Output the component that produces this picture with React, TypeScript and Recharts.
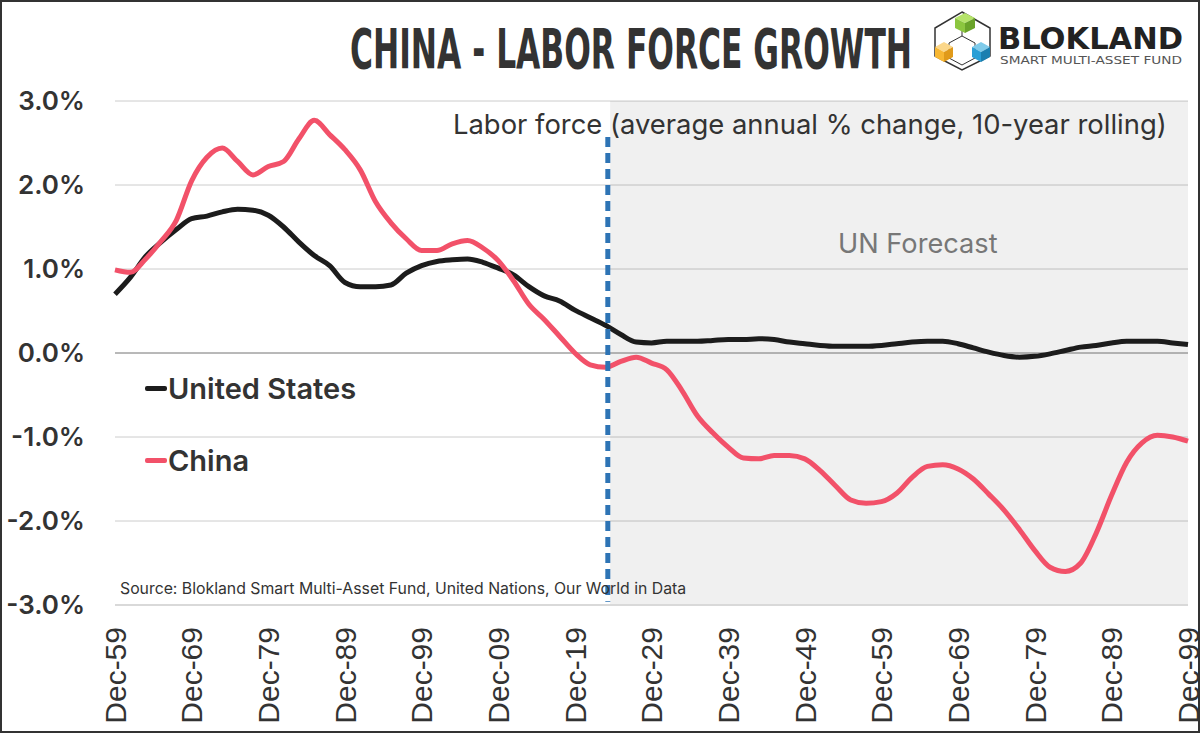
import { LineChart, Line, XAxis, YAxis, CartesianGrid, ReferenceArea, ReferenceLine } from "recharts";

// Annual points every 2 years
const YEARS = [
  1959, 1961, 1963, 1965, 1967, 1969, 1971, 1973, 1975, 1977, 1979, 1981, 1983, 1985, 1987, 1989,
  1991, 1993, 1995, 1997, 1999, 2001, 2003, 2005, 2007, 2009, 2011, 2013, 2015, 2017, 2019, 2021,
  2023, 2025, 2027, 2029, 2031, 2033, 2035, 2037, 2039, 2041, 2043, 2045, 2047, 2049, 2051, 2053,
  2055, 2057, 2059, 2061, 2063, 2065, 2067, 2069, 2071, 2073, 2075, 2077, 2079, 2081, 2083, 2085,
  2087, 2089, 2091, 2093, 2095, 2097, 2099,
];

const US = [
  0.70, 0.90, 1.15, 1.32, 1.47, 1.60, 1.63, 1.68, 1.71, 1.70, 1.64, 1.50, 1.32, 1.16, 1.04, 0.84,
  0.79, 0.79, 0.81, 0.95, 1.04, 1.09, 1.11, 1.12, 1.08, 1.01, 0.93, 0.79, 0.68, 0.62, 0.51, 0.42,
  0.33, 0.22, 0.13, 0.12, 0.14, 0.14, 0.14, 0.15, 0.16, 0.16, 0.17, 0.16, 0.13, 0.11, 0.09, 0.08,
  0.08, 0.08, 0.09, 0.11, 0.13, 0.14, 0.14, 0.11, 0.06, 0.01, -0.03, -0.05, -0.04, -0.01, 0.03, 0.07,
  0.09, 0.12, 0.14, 0.14, 0.14, 0.12, 0.10,
];

const CHINA = [
  0.99, 0.96, 1.12, 1.33, 1.58, 2.05, 2.33, 2.44, 2.28, 2.12, 2.22, 2.28, 2.55, 2.77, 2.60, 2.42,
  2.18, 1.80, 1.55, 1.36, 1.22, 1.22, 1.30, 1.34, 1.25, 1.10, 0.86, 0.58, 0.40, 0.20, 0.00, -0.14,
  -0.17, -0.10, -0.05, -0.12, -0.20, -0.45, -0.75, -0.95, -1.12, -1.25, -1.26, -1.22, -1.22, -1.26, -1.40, -1.58,
  -1.75, -1.79, -1.77, -1.67, -1.48, -1.35, -1.33, -1.38, -1.50, -1.68, -1.87, -2.10, -2.35, -2.55, -2.60, -2.50,
  -2.15, -1.70, -1.30, -1.07, -0.98, -1.00, -1.05,
];

const X_TICKS = [1959, 1969, 1979, 1989, 1999, 2009, 2019, 2029, 2039, 2049, 2059, 2069, 2079, 2089, 2099];
const Y_TICKS = [-3, -2, -1, 0, 1, 2, 3];
const FORECAST_START = 2023.6;
const DIVIDER_YEAR = 2023.3;

const data = YEARS.map((year, i) => ({ year, us: US[i], china: CHINA[i] }));

const FONT = "Inter, 'Noto Sans', sans-serif";
const RED = "#f25169";
const BLACK = "#1c1c1c";

const SERIES = [
  { key: "us", name: "United States", color: BLACK },
  { key: "china", name: "China", color: RED },
];

const XTick = ({ x, y, payload }: any) => (
  <text
    transform={`translate(${x},${y + 14}) rotate(-90)`}
    textAnchor="end"
    dy="0.36em"
    fontFamily="'Liberation Sans', Arial, sans-serif"
    fontSize={30}
    fill="#333"
  >
    {"Dec-" + String(payload.value).slice(2)}
  </text>
);

const Logo = () => (
  <svg width={1200} height={90} style={{ position: "absolute", left: 0, top: 0 }}>
    <text
      x={350} y={68} textLength={562} lengthAdjust="spacingAndGlyphs"
      fontFamily="'DejaVu Sans Condensed', 'DejaVu Sans', sans-serif" fontWeight="bold" fontSize={56} fill="#333"
    >
      CHINA - LABOR FORCE GROWTH
    </text>
    {/* cube mark */}
    <polygon points="962,12 990,28 990,56 962,70 935,56 935,28" fill="none" stroke="#333" strokeWidth={1.5} />
    <polygon points="962,36 975,43 975,58 962,65 949,58 949,43" fill="none" stroke="#333" strokeWidth={1} />
    <line x1={962} y1={28} x2={962} y2={36} stroke="#333" strokeWidth={1} />
    <polygon points="965,13 975,18 965,23 955,18" fill="#b5e36a" />
    <polygon points="955,18 965,23 965,33 955,28" fill="#8cc63f" />
    <polygon points="965,23 975,18 975,28 965,33" fill="#6aa32a" />
    <polygon points="944,42 953,47 944,52 935,47" fill="#fbd78a" />
    <polygon points="935,47 944,52 944,62 935,57" fill="#f7b733" />
    <polygon points="944,52 953,47 953,57 944,62" fill="#e09a1a" />
    <polygon points="981,42 990,47 981,52 972,47" fill="#7fcbea" />
    <polygon points="972,47 981,52 981,62 972,57" fill="#2a9fd6" />
    <polygon points="981,52 990,47 990,57 981,62" fill="#1b7fb0" />
    <text x={998} y={49} textLength={185} lengthAdjust="spacingAndGlyphs"
      fontFamily="'DejaVu Sans', sans-serif" fontWeight="bold" fontSize={30} fill="#222">
      BLOKLAND
    </text>
    <text x={1000} y={64} textLength={182} lengthAdjust="spacingAndGlyphs"
      fontFamily="'DejaVu Sans', sans-serif" fontSize={10} fill="#555">
      SMART MULTI-ASSET FUND
    </text>
  </svg>
);

export default function App() {
  return (
    <div style={{ position: "absolute", left: 0, top: 0, width: 1200, height: 733, background: "#fff", overflow: "hidden" }}>
      <LineChart width={1200} height={733} data={data} margin={{ top: 101, right: 12, left: 15, bottom: 8 }}>
        <CartesianGrid horizontal vertical={false} stroke="#cccccc" />
        <ReferenceArea x1={FORECAST_START} x2={2099} y1={-3} y2={3} fill="#000" fillOpacity={0.06} stroke="none" />
        <XAxis
          dataKey="year" type="number" domain={[1959, 2099]} ticks={X_TICKS}
          height={120} tickLine={false} axisLine={{ stroke: "#d9d9d9", strokeWidth: 2 }}
          tick={<XTick />} interval={0}
        />
        <YAxis
          type="number" domain={[-3, 3]} ticks={Y_TICKS} width={100}
          tickLine={false} axisLine={false} tickSize={0} tickMargin={30}
          tickFormatter={(v: number) => `${v.toFixed(1)}%`}
          tick={{ fontFamily: FONT, fontSize: 26, fontWeight: 600, fill: "#333" }}
        />
        <ReferenceLine y={0} stroke="#8c8c8c" strokeWidth={1.2} />
        {SERIES.map((s) => (
          <Line key={s.key} type="monotone" dataKey={s.key} name={s.name} stroke={s.color}
            strokeWidth={5} dot={false} isAnimationActive={false} />
        ))}
        <ReferenceLine
          segment={[{ x: DIVIDER_YEAR, y: 2.57 }, { x: DIVIDER_YEAR, y: -2.96 }]}
          stroke="#2e74b5" strokeWidth={5} strokeDasharray="10 6"
        />
      </LineChart>

      <Logo />

      {/* legend */}
      <div style={{ position: "absolute", left: 145, top: 352 }}>
        {SERIES.map((s) => (
          <div key={s.key} style={{ display: "flex", alignItems: "center", height: 72 }}>
            <span style={{ width: 22, height: 5, background: s.color, borderRadius: 2, marginRight: 1 }} />
            <span style={{ fontFamily: FONT, fontSize: 29, fontWeight: 600, color: "#333" }}>{s.name}</span>
          </div>
        ))}
      </div>

      <div style={{ position: "absolute", left: 453, top: 107, fontFamily: FONT, fontSize: 27.4, color: "#333", whiteSpace: "nowrap" }}>
        Labor force (average annual % change, 10-year rolling)
      </div>
      <div style={{ position: "absolute", left: 838, top: 227, fontFamily: FONT, fontSize: 27.2, color: "#777", whiteSpace: "nowrap" }}>
        UN Forecast
      </div>
      <div style={{ position: "absolute", left: 120, top: 579, fontFamily: FONT, fontSize: 15.8, color: "#333", whiteSpace: "nowrap" }}>
        Source: Blokland Smart Multi-Asset Fund, United Nations, Our World in Data
      </div>
      <div style={{ position: "absolute", inset: 0, border: "2px solid #333", boxSizing: "border-box", pointerEvents: "none" }} />
    </div>
  );
}
